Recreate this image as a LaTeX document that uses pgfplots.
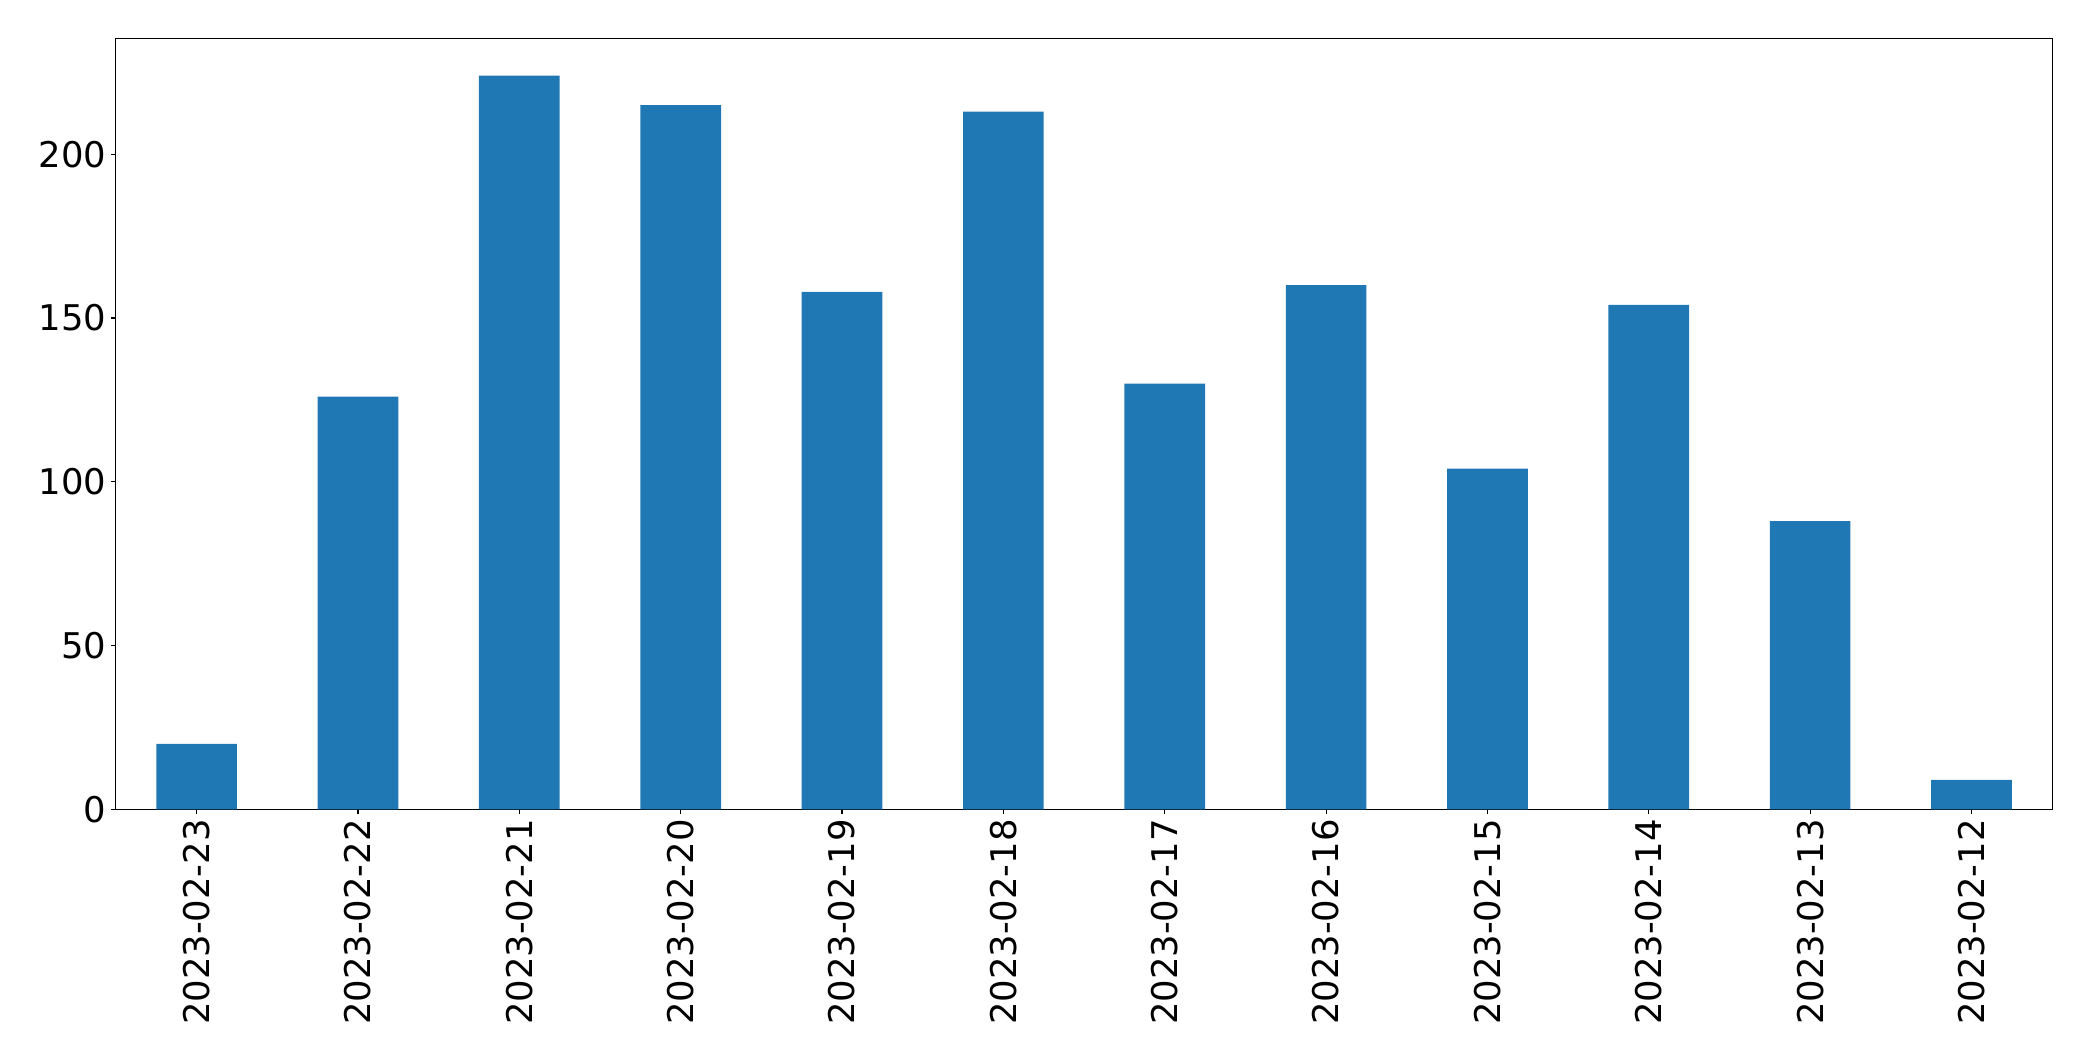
\documentclass[border=0pt]{standalone}
\usepackage{pgfplots}
\pgfplotsset{compat=1.18}
\usepackage{fontspec}
\setmainfont{DejaVu Sans}
\definecolor{barblue}{HTML}{1F77B4}
\begin{document}
\begin{tikzpicture}
	\useasboundingbox (-83.5pt,-181pt) rectangle (1424pt,583pt);
	\begin{axis}[
		scale only axis,
		width=1394.6pt,
		height=555pt,
		at={(0,0)}, anchor=south west,
		xmin=-0.5, xmax=11.5,
		ymin=0, ymax=235.2,
		xtick={0,...,11},
		xticklabels={2023-02-23,2023-02-22,2023-02-21,2023-02-20,2023-02-19,2023-02-18,2023-02-17,2023-02-16,2023-02-15,2023-02-14,2023-02-13,2023-02-12},
		ytick={0,50,100,150,200},
		x tick label style={rotate=90, anchor=east},
		tick label style={font=\fontsize{25.5}{30}\selectfont},
		/pgf/number format/assume math mode=true,
		tick align=outside,
		xtick pos=bottom, ytick pos=left,
		major tick length=3.5pt,
		every tick/.style={black, line width=0.8pt},
		axis line style={line width=0.8pt},
		]
		\addplot[ybar, bar width=0.5, bar shift=0pt, fill=barblue, draw=none] coordinates {
			(0,20)
			(1,126)
			(2,224)
			(3,215)
			(4,158)
			(5,213)
			(6,130)
			(7,160)
			(8,104)
			(9,154)
			(10,88)
			(11,9)
		};
	\end{axis}
\end{tikzpicture}
\end{document}
